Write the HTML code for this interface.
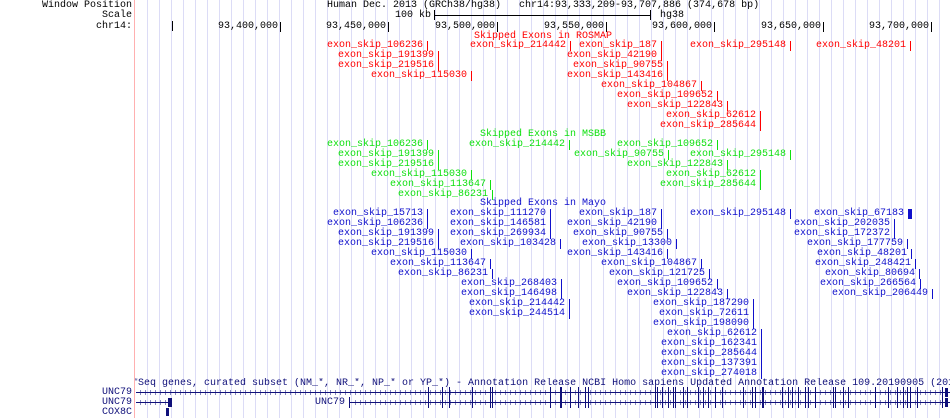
<!DOCTYPE html>
<html><head><meta charset="utf-8"><style>
body{margin:0;width:950px;height:418px;background:#fff;position:relative;overflow:hidden;font-family:"Liberation Mono",monospace;font-size:10px;}
.g{position:absolute;top:0;width:1px;height:418px;background:#dcdcf6;}
.t{position:absolute;white-space:pre;line-height:10px;height:10px;margin-top:1px;}
.l{position:absolute;white-space:pre;line-height:10px;height:10px;padding-right:4px;border-right:1px solid;margin-top:1px;}
.r{color:#f00}.gr{color:#10e010}.b{color:#1010cc}
.k{position:absolute;background:#000;}
.n{position:absolute;background:#10107a;}
</style></head><body>
<div id="grid"></div>
<div class="g" style="left:134px;background:#ffb0b0"></div>
<div class="t" style="right:818px;top:0">Window Position</div>
<div class="t" style="right:818px;top:10px">Scale</div>
<div class="t" style="right:818px;top:21px">chr14:</div>
<div class="t" style="left:327px;top:0">Human Dec. 2013 (GRCh38/hg38)   chr14:93,333,209-93,707,886 (374,678 bp)</div>
<div class="t" style="right:519px;top:10px">100 kb</div>
<div class="k" style="left:434px;top:15px;width:216px;height:1px"></div>
<div class="k" style="left:434px;top:10px;width:1px;height:10px"></div>
<div class="k" style="left:650px;top:10px;width:1px;height:10px"></div>
<div class="t" style="left:660px;top:10px">hg38</div>
<div class="k" style="left:172px;top:21px;width:1px;height:10px"></div>
<div class="t" style="right:669px;top:21px;padding-right:2px;border-right:1px solid #000">93,400,000</div>
<div class="t" style="right:561px;top:21px;padding-right:2px;border-right:1px solid #000">93,450,000</div>
<div class="t" style="right:452px;top:21px;padding-right:2px;border-right:1px solid #000">93,500,000</div>
<div class="t" style="right:343px;top:21px;padding-right:2px;border-right:1px solid #000">93,550,000</div>
<div class="t" style="right:235px;top:21px;padding-right:2px;border-right:1px solid #000">93,600,000</div>
<div class="t" style="right:126px;top:21px;padding-right:2px;border-right:1px solid #000">93,650,000</div>
<div class="t" style="right:18px;top:21px;padding-right:2px;border-right:1px solid #000">93,700,000</div>

<div class="t r" style="left:474px;top:31px">Skipped Exons in ROSMAP</div>
<div class="l r" style="right:522px;top:40px">exon_skip_106236</div>
<div class="l r" style="right:379px;top:40px">exon_skip_214442</div>
<div class="l r" style="right:288px;top:40px">exon_skip_187</div>
<div class="l r" style="right:159px;top:40px">exon_skip_295148</div>
<div class="l r" style="right:39px;top:40px">exon_skip_48201</div>
<div class="l r" style="right:511px;top:50px">exon_skip_191399</div>
<div class="l r" style="right:288px;top:50px">exon_skip_42190</div>
<div class="l r" style="right:511px;top:60px">exon_skip_219516</div>
<div class="l r" style="right:282px;top:60px">exon_skip_90755</div>
<div class="l r" style="right:478px;top:70px">exon_skip_115030</div>
<div class="l r" style="right:282px;top:70px">exon_skip_143416</div>
<div class="l r" style="right:248px;top:80px">exon_skip_104867</div>
<div class="l r" style="right:232px;top:90px">exon_skip_109652</div>
<div class="l r" style="right:222px;top:100px">exon_skip_122843</div>
<div class="l r" style="right:189px;top:110px">exon_skip_62612</div>
<div class="l r" style="right:189px;top:120px">exon_skip_285644</div>

<div class="t gr" style="left:480px;top:129px">Skipped Exons in MSBB</div>
<div class="l gr" style="right:522px;top:139px">exon_skip_106236</div>
<div class="l gr" style="right:380px;top:139px">exon_skip_214442</div>
<div class="l gr" style="right:232px;top:139px">exon_skip_109652</div>
<div class="l gr" style="right:511px;top:149px">exon_skip_191399</div>
<div class="l gr" style="right:281px;top:149px">exon_skip_90755</div>
<div class="l gr" style="right:159px;top:149px">exon_skip_295148</div>
<div class="l gr" style="right:511px;top:159px">exon_skip_219516</div>
<div class="l gr" style="right:222px;top:159px">exon_skip_122843</div>
<div class="l gr" style="right:478px;top:169px">exon_skip_115030</div>
<div class="l gr" style="right:189px;top:169px">exon_skip_62612</div>
<div class="l gr" style="right:459px;top:179px">exon_skip_113647</div>
<div class="l gr" style="right:189px;top:179px">exon_skip_285644</div>
<div class="l gr" style="right:457px;top:189px">exon_skip_86231</div>

<div class="t b" style="left:480px;top:198px">Skipped Exons in Mayo</div>
<div class="l b" style="right:522px;top:208px">exon_skip_15713</div>
<div class="l b" style="right:399px;top:208px">exon_skip_111270</div>
<div class="l b" style="right:288px;top:208px">exon_skip_187</div>
<div class="l b" style="right:159px;top:208px">exon_skip_295148</div>
<div class="l b" style="right:38px;top:208px;border-right:4px solid">exon_skip_67183</div>
<div class="l b" style="right:522px;top:218px">exon_skip_106236</div>
<div class="l b" style="right:399px;top:218px">exon_skip_146581</div>
<div class="l b" style="right:288px;top:218px">exon_skip_42190</div>
<div class="l b" style="right:55px;top:218px">exon_skip_202035</div>
<div class="l b" style="right:511px;top:228px">exon_skip_191399</div>
<div class="l b" style="right:399px;top:228px">exon_skip_269934</div>
<div class="l b" style="right:282px;top:228px">exon_skip_90755</div>
<div class="l b" style="right:55px;top:228px">exon_skip_172372</div>
<div class="l b" style="right:511px;top:238px">exon_skip_219516</div>
<div class="l b" style="right:389px;top:238px">exon_skip_103428</div>
<div class="l b" style="right:273px;top:238px">exon_skip_13300</div>
<div class="l b" style="right:42px;top:238px">exon_skip_177759</div>
<div class="l b" style="right:478px;top:248px">exon_skip_115030</div>
<div class="l b" style="right:282px;top:248px">exon_skip_143416</div>
<div class="l b" style="right:38px;top:248px">exon_skip_48201</div>
<div class="l b" style="right:459px;top:258px">exon_skip_113647</div>
<div class="l b" style="right:248px;top:258px">exon_skip_104867</div>
<div class="l b" style="right:34px;top:258px">exon_skip_248421</div>
<div class="l b" style="right:457px;top:268px">exon_skip_86231</div>
<div class="l b" style="right:240px;top:268px">exon_skip_121725</div>
<div class="l b" style="right:30px;top:268px">exon_skip_80694</div>
<div class="l b" style="right:388px;top:278px">exon_skip_268403</div>
<div class="l b" style="right:232px;top:278px">exon_skip_109652</div>
<div class="l b" style="right:29px;top:278px">exon_skip_266564</div>
<div class="l b" style="right:388px;top:288px">exon_skip_146498</div>
<div class="l b" style="right:222px;top:288px">exon_skip_122843</div>
<div class="l b" style="right:17px;top:288px">exon_skip_206449</div>
<div class="l b" style="right:380px;top:298px">exon_skip_214442</div>
<div class="l b" style="right:196px;top:298px">exon_skip_187290</div>
<div class="l b" style="right:380px;top:308px">exon_skip_244514</div>
<div class="l b" style="right:196px;top:308px">exon_skip_72611</div>
<div class="l b" style="right:196px;top:318px">exon_skip_198090</div>
<div class="l b" style="right:188px;top:328px">exon_skip_62612</div>
<div class="l b" style="right:188px;top:338px">exon_skip_162341</div>
<div class="l b" style="right:188px;top:348px">exon_skip_285644</div>
<div class="l b" style="right:188px;top:358px">exon_skip_137391</div>
<div class="l b" style="right:188px;top:368px">exon_skip_274018</div>

<div style="position:absolute;left:135px;top:378px;width:815px;height:11px;overflow:hidden">
<div class="t" style="left:-15px;top:0;color:#10107a">RefSeq genes, curated subset (NM_*, NR_*, NP_* or YP_*) - Annotation Release NCBI Homo sapiens Updated Annotation Release 109.20190905 (2019-09-05)</div></div>
<div class="t" style="right:818px;top:387px;color:#10107a">UNC79</div>
<div class="t" style="right:818px;top:397px;color:#10107a">UNC79</div>
<div class="t" style="right:818px;top:407px;color:#10107a">COX8C</div>
<div class="t" style="left:315px;top:397px;color:#10107a">UNC79</div>
<div class="n" style="left:136px;top:392px;width:814px;height:1px"></div>
<div class="n" style="left:136px;top:402px;width:34px;height:1px"></div>
<div class="n" style="left:168px;top:398px;width:4px;height:9px"></div>
<div class="n" style="left:349px;top:402px;width:601px;height:1px"></div>
<div class="n" style="left:349px;top:397px;width:1px;height:11px"></div>
<div class="n" style="left:166px;top:408px;width:3px;height:8px"></div>
<div id="gene"></div>
<script>
var g=document.getElementById('grid'),h='';
for(var x=147;x<950;x+=12)h+='<div class="g" style="left:'+x+'px"></div>';
g.innerHTML=h;
var e=document.getElementById('gene'),s='';
for(var x=140;x<948;x+=5){s+='<div class="n" style="left:'+x+'px;top:390px;width:1px;height:5px;opacity:.5"></div>';
if(x<168||x>352)s+='<div class="n" style="left:'+x+'px;top:400px;width:1px;height:5px;opacity:.5"></div>';}
var ex=[428,442,449,472,490,492,550,560,570,578,585,588,655,657,662,668,673,675,683,687,698,703,708,715,722,743,752,755,762,782,788,792,798,805,808,815,833,835,843,848,875,888,897,903,907,910,917,942];
var thick={560:1,762:1,945:1};
ex.forEach(function(x){var w=thick[x]?2:1;
s+='<div class="n" style="left:'+x+'px;top:387px;width:'+w+'px;height:11px"></div>';
s+='<div class="n" style="left:'+x+'px;top:397px;width:'+w+'px;height:11px"></div>';});
s+='<div class="n" style="left:945px;top:388px;width:3px;height:9px"></div><div class="n" style="left:945px;top:398px;width:3px;height:9px"></div>';
e.innerHTML=s;
</script>
</body></html>
